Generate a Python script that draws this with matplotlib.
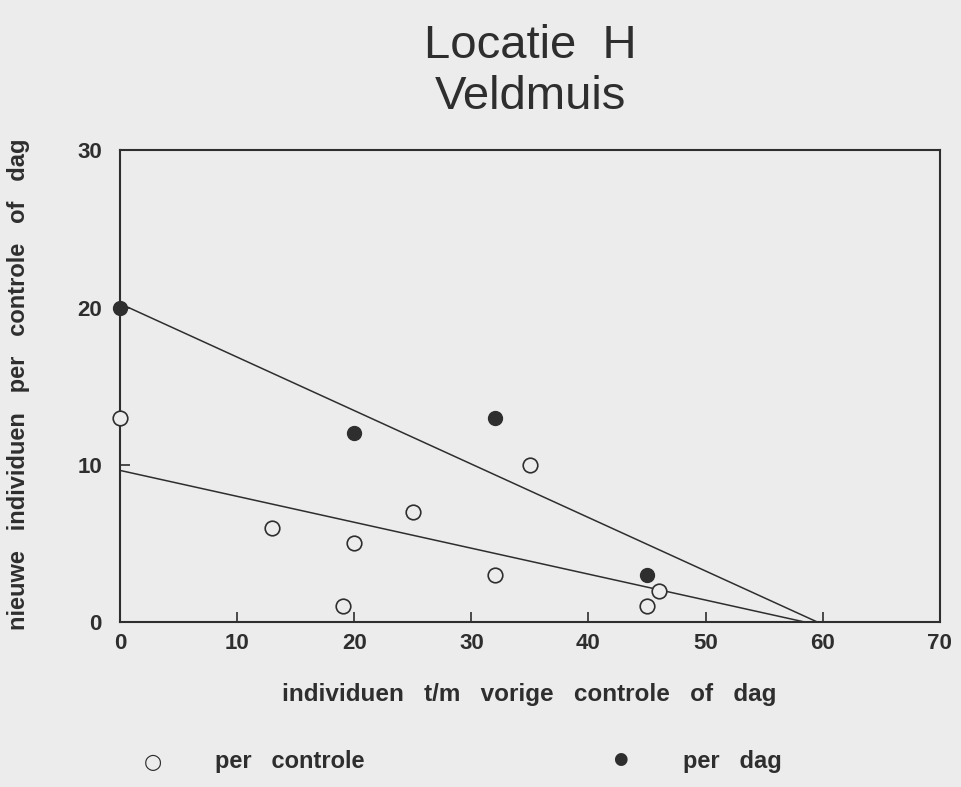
import matplotlib.pyplot as plt
import numpy as np

# per controle (open circles)
x_controle = [0, 13, 19, 20, 25, 32, 35, 45, 46]
y_controle = [13, 6, 1, 5, 7, 3, 10, 1, 2]

# per dag (filled circles)
x_dag = [0, 20, 32, 45]
y_dag = [20, 12, 13, 3]

xticks = [0, 10, 20, 30, 40, 50, 60, 70]
yticks = [0, 10, 20, 30]

BG = '#ececec'
INK = '#2e2e2e'

plt.rcParams['font.family'] = ['Liberation Sans', 'DejaVu Sans']

fig = plt.figure(figsize=(9.61, 7.87), dpi=100, facecolor=BG)
ax = fig.add_axes([0.1249, 0.2097, 0.853, 0.5993], facecolor=BG)


def regression_line(x, y):
    # least squares line, drawn from x=0 to where it hits y=0
    slope, icpt = np.polyfit(x, y, 1)
    xs = np.array([0, -icpt / slope])
    return xs, icpt + slope * xs


for xs, ys in (regression_line(x_controle, y_controle), regression_line(x_dag, y_dag)):
    ax.plot(xs, ys, color=INK, lw=1.1, zorder=2)

ax.plot(x_controle, y_controle, 'o', ms=10.5, mfc=BG, mec=INK, mew=1.2,
        clip_on=False, zorder=3)
ax.plot(x_dag, y_dag, 'o', ms=10, mfc=INK, mec=INK, clip_on=False, zorder=3)

ax.set_xlim(0, 70)
ax.set_ylim(0, 30)
ax.set_xticks(xticks)
ax.set_yticks(yticks)
ax.tick_params(direction='in', length=7, width=1.2, color=INK,
               labelsize=16, labelcolor=INK)
ax.tick_params(axis='x', pad=8)
ax.tick_params(axis='y', pad=13)
for lab in ax.get_xticklabels() + ax.get_yticklabels():
    lab.set_fontweight('bold')
for sp in ax.spines.values():
    sp.set_color(INK)
    sp.set_linewidth(1.5)

fig.text(0.552, 0.941, 'Locatie  H', ha='center', va='center',
         fontsize=34, color=INK)
fig.text(0.552, 0.877, 'Veldmuis', ha='center', va='center',
         fontsize=34, color=INK)

fig.text(0.551, 0.117, 'individuen   t/m   vorige   controle   of   dag',
         ha='center', va='center', fontsize=17.5, fontweight='bold', color=INK)
fig.text(0.019, 0.512, 'nieuwe   individuen   per   controle   of   dag',
         ha='center', va='center', rotation=90, fontsize=17,
         fontweight='bold', color=INK)

# legend drawn as loose text like the original
fig.text(0.159, 0.032, '\u25cb', ha='center', va='center', fontsize=15,
         color=INK, family=['DejaVu Sans'])
fig.text(0.224, 0.032, 'per   controle', ha='left', va='center',
         fontsize=17, fontweight='bold', color=INK)
fig.text(0.645, 0.036, '\u25cf', ha='center', va='center', fontsize=12,
         color=INK, family=['DejaVu Sans'])
fig.text(0.711, 0.032, 'per   dag', ha='left', va='center',
         fontsize=17, fontweight='bold', color=INK)

fig.savefig('out.png', dpi=100, facecolor=BG)
